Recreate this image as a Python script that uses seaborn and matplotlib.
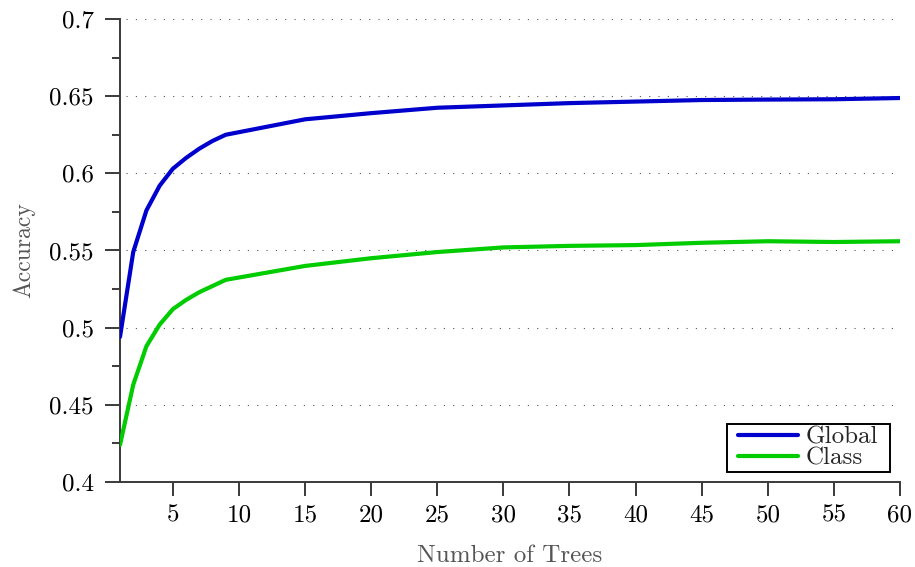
import matplotlib
matplotlib.use("Agg")
import matplotlib.pyplot as plt
from matplotlib.path import Path
import numpy as np
import pandas as pd
import seaborn as sns

# Accuracy against forest size
trees = [1, 2, 3, 4, 5, 6, 7, 8, 9, 15, 20, 25, 30, 35, 40, 45, 50, 55, 60]
global_acc = [0.494, 0.549, 0.576, 0.592, 0.603, 0.610, 0.616, 0.621, 0.625,
              0.635, 0.639, 0.6425, 0.644, 0.6455, 0.6465, 0.6475, 0.6478, 0.648, 0.6488]
class_acc = [0.424, 0.463, 0.488, 0.502, 0.512, 0.518, 0.523, 0.527, 0.531,
             0.540, 0.545, 0.549, 0.552, 0.553, 0.5535, 0.555, 0.556, 0.5555, 0.556]
series_names = ["Global", "Class"]
series_colors = ["#0000CC", "#00CC00"]
y_ticks = [0.4, 0.45, 0.5, 0.55, 0.6, 0.65, 0.7]
y_tick_labels = ["0.4", "0.45", "0.5", "0.55", "0.6", "0.65", "0.7"]
x_ticks = [5, 10, 15, 20, 25, 30, 35, 40, 45, 50, 55, 60]

df = pd.DataFrame({
    "Number of Trees": trees * 2,
    "Accuracy": global_acc + class_acc,
    "Series": [series_names[0]] * len(trees) + [series_names[1]] * len(trees),
})

sns.set_theme(style="ticks")
plt.rcParams["font.family"] = "serif"
plt.rcParams["font.serif"] = ["cmr10", "DejaVu Serif"]
plt.rcParams["mathtext.fontset"] = "cm"
plt.rcParams["axes.unicode_minus"] = False
plt.rcParams["axes.formatter.use_mathtext"] = True

fig = plt.figure(figsize=(9.15, 5.67), dpi=100)
ax = fig.add_axes([120 / 915, 1 - 482 / 567, 780 / 915, 463 / 567])

sns.lineplot(data=df, x="Number of Trees", y="Accuracy", hue="Series",
             palette=dict(zip(series_names, series_colors)), linewidth=3.0,
             ax=ax, zorder=3)

ax.set_xlim(1, 60)
ax.set_ylim(0.4, 0.7)
ax.set_xticks(x_ticks)
ax.set_xticklabels([str(t) for t in x_ticks])
ax.set_yticks(y_ticks)
ax.set_yticklabels(y_tick_labels)
ax.set_yticks(np.arange(0.425, 0.7, 0.05), minor=True)

for side in ["top", "right"]:
    ax.spines[side].set_visible(False)
for side in ["left", "bottom"]:
    ax.spines[side].set_color("#3a3a3a")
    ax.spines[side].set_linewidth(1.4)

ax.tick_params(axis="both", which="major", direction="out", width=1.4,
               color="#3a3a3a", labelsize=18, labelcolor="black")
ax.tick_params(axis="y", which="major", length=11, pad=8)
ax.tick_params(axis="x", which="major", length=10, pad=6)
ax.tick_params(axis="y", which="minor", length=5.5, width=1.4, color="#3a3a3a")

ax.yaxis.grid(True, which="major", color="#555555", linewidth=0.8,
              linestyle=(3, (1, 7.4)))
ax.xaxis.grid(False)

ax.set_xlabel("Number of Trees", fontsize=18, color="#555555", labelpad=13)
ax.set_ylabel("Accuracy", fontsize=17, color="#555555", labelpad=10)


def wide_square(x0, y0, width, height, mutation_size):
    """Square frame with extra horizontal padding only."""
    dx = 0.36 * mutation_size
    return Path([(x0 - dx, y0), (x0 + width + dx, y0),
                 (x0 + width + dx, y0 + height), (x0 - dx, y0 + height),
                 (x0 - dx, y0)], closed=True)


leg = ax.legend(loc="lower right", bbox_to_anchor=(0.9756, 0.0216),
                fontsize=18, frameon=True, fancybox=False,
                edgecolor="black", framealpha=1, borderpad=0.1,
                labelspacing=-0.07, handlelength=2.4, handletextpad=0.3,
                borderaxespad=0.0, title=None)
leg.get_frame().set_boxstyle(wide_square)
leg.get_frame().set_linewidth(1.4)

fig.savefig("out.png", dpi=100)
